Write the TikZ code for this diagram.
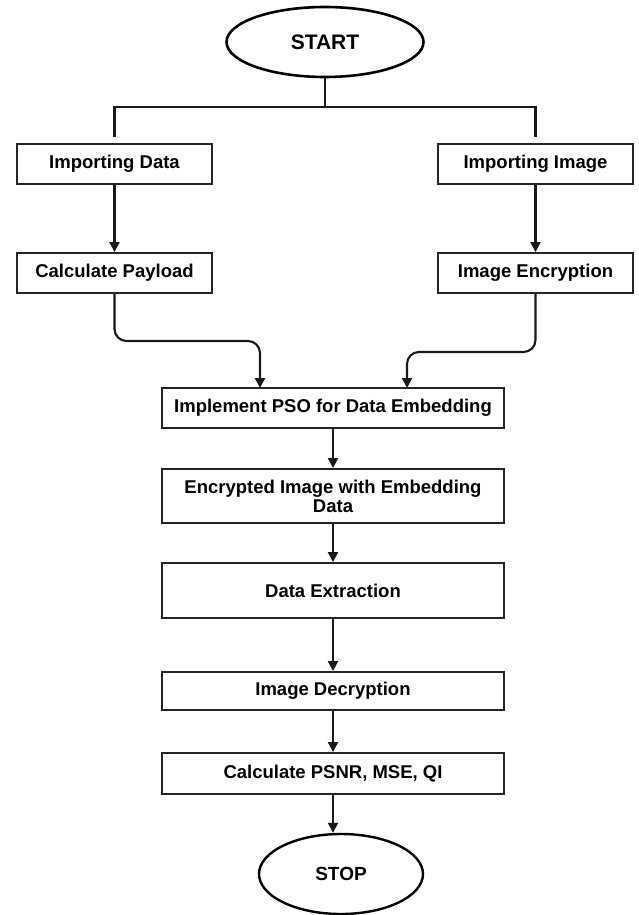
\documentclass[tikz,border=0pt]{standalone}
\usepackage{fontspec}
\setmainfont{Liberation Sans}
\usetikzlibrary{shapes.geometric,arrows.meta}
\tikzset{
  box/.style={draw=black!85, line width=1.9pt, rectangle, inner sep=0pt, align=center,
    font=\bfseries\fontsize{18.5}{21}\selectfont},
  oval/.style={draw=black, ellipse, inner sep=0pt, font=\bfseries\fontsize{19}{22}\selectfont},
  conn/.style={line width=2.1pt, draw=black!90},
  arr/.style={conn, -{Triangle[length=10pt,width=10pt]}},
  tree/.style={line width=2.8pt, draw=black!90}
}
\begin{document}
\begin{tikzpicture}[x=1pt,y=-1pt]
\useasboundingbox (0,0) rectangle (638,915);
% nodes
\node[oval, line width=2.6pt, minimum width=197pt, minimum height=70pt, font=\bfseries\fontsize{21}{24}\selectfont] (start) at (325,42) {START};
\node[box, minimum width=195pt, minimum height=40pt] (idata) at (114.5,164) {Importing Data};
\node[box, minimum width=195pt, minimum height=40pt] (iimg) at (535.5,164) {Importing Image};
\node[box, minimum width=195pt, minimum height=40pt] (cp) at (114.5,273) {Calculate Payload};
\node[box, minimum width=195pt, minimum height=40pt] (ie) at (535.5,273) {Image Encryption};
\node[box, minimum width=342pt, minimum height=40pt] (pso) at (333,408) {Implement PSO for Data Embedding};
\node[box, minimum width=342pt, minimum height=54pt] (enc) at (333,496) {Encrypted Image with Embedding\\[-2pt]Data};
\node[box, minimum width=342pt, minimum height=55pt] (de) at (333,590.5) {Data Extraction};
\node[box, minimum width=342pt, minimum height=38pt] (idec) at (333,691) {Image Decryption};
\node[box, minimum width=342pt, minimum height=41pt] (psnr) at (333,773.5) {Calculate PSNR, MSE, QI};
\node[oval, line width=2.4pt, minimum width=164pt, minimum height=80pt] (stop) at (341,874) {STOP};
% tree from start
\coordinate (split) at (325,107);
\draw[tree] (start.south) -- (split);
\draw[tree, shorten >=6pt] (split) -| (idata.north);
\draw[tree, shorten >=6pt] (split) -| (iimg.north);
% arrows
\draw[arr] (idata) -- (cp);
\draw[arr] (iimg) -- (ie);
\coordinate (lin) at (260,388);
\coordinate (rin) at (407,388);
\draw[arr, rounded corners=12pt] (cp.south) -- (114.5,341) -| (lin);
\draw[arr, rounded corners=12pt] (ie.south) -- (535.5,352) -| (rin);
\draw[arr] (pso) -- (enc);
\draw[arr] (enc) -- (de);
\draw[arr] (de) -- (idec);
\draw[arr] (idec) -- (psnr);
\draw[arr] (psnr.south) -- (psnr.south |- stop.north);
\end{tikzpicture}
\end{document}
